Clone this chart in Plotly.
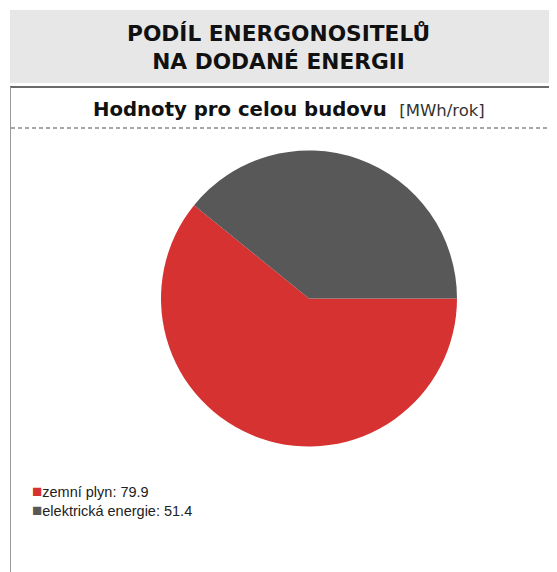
import plotly.graph_objects as go

# The browser page adds an 8px body margin; the figure is sized to fit the window.
OFF = 8
W, H = 557 - OFF, 572 - OFF

title_lines = ["PODÍL ENERGONOSITELŮ", "NA DODANÉ ENERGII"]
subtitle_bold = "Hodnoty pro celou budovu"
subtitle_unit = "[MWh/rok]"
categories = ["zemní plyn", "elektrická energie"]
values = [79.9, 51.4]
colors = ["#d63232", "#585858"]


def px_x(x):
    return (x - OFF) / W


def px_y(y):
    return 1 - (y - OFF) / H


fig = go.Figure()
fig.add_trace(go.Pie(
    labels=categories,
    values=values,
    marker=dict(colors=colors, line=dict(width=0)),
    sort=False,
    direction="clockwise",
    rotation=90,
    textinfo="none",
    hoverinfo="label+value",
    showlegend=False,
    domain=dict(x=[px_x(161), px_x(457)], y=[px_y(447), px_y(150)]),
))

shapes = [
    # header box
    dict(type="rect", xref="paper", yref="paper", x0=px_x(10), x1=1.02,
         y0=px_y(83), y1=px_y(10), fillcolor="#e7e7e7", line=dict(width=0), layer="below"),
    # white panel top border
    dict(type="line", xref="paper", yref="paper", x0=px_x(10), x1=1.02,
         y0=px_y(87), y1=px_y(87), line=dict(color="#6a6a6a", width=2)),
    # white panel left border
    dict(type="line", xref="paper", yref="paper", x0=px_x(10.5), x1=px_x(10.5),
         y0=px_y(87), y1=-0.02, line=dict(color="#9a9a9a", width=1)),
    # dashed separator
    dict(type="line", xref="paper", yref="paper", x0=px_x(11), x1=1.02,
         y0=px_y(128), y1=px_y(128), line=dict(color="#8a8a8a", width=1.5, dash="4px,3px")),
]

annotations = [
    dict(text="<b>" + "<br>".join(title_lines) + "</b>", xref="paper", yref="paper",
         x=px_x(278), y=px_y(48), xanchor="center", yanchor="middle", showarrow=False,
         font=dict(family="DejaVu Sans", size=21.7, color="#111111"), align="center"),
    dict(text="<b>" + subtitle_bold + "</b>  <span style='font-size:16.5px;color:#333333'>" + subtitle_unit + "</span>",
         xref="paper", yref="paper", x=px_x(289), y=px_y(109), xanchor="center", yanchor="middle",
         showarrow=False, font=dict(family="DejaVu Sans", size=19.7, color="#111111")),
]

for i, (cat, val, col) in enumerate(zip(categories, values, colors)):
    annotations.append(dict(
        text=f"<span style='color:{col};font-size:17px'>■</span>{cat}: {val}",
        xref="paper", yref="paper", x=px_x(30), y=px_y(491 + 19 * i),
        xanchor="left", yanchor="middle", showarrow=False,
        font=dict(family="Liberation Sans", size=14.5, color="#222222"),
    ))

fig.update_layout(
    width=W, height=H, autosize=False,
    margin=dict(l=0, r=0, t=0, b=0),
    paper_bgcolor="white", plot_bgcolor="white",
    shapes=shapes, annotations=annotations,
)

fig.write_html("out.html")
